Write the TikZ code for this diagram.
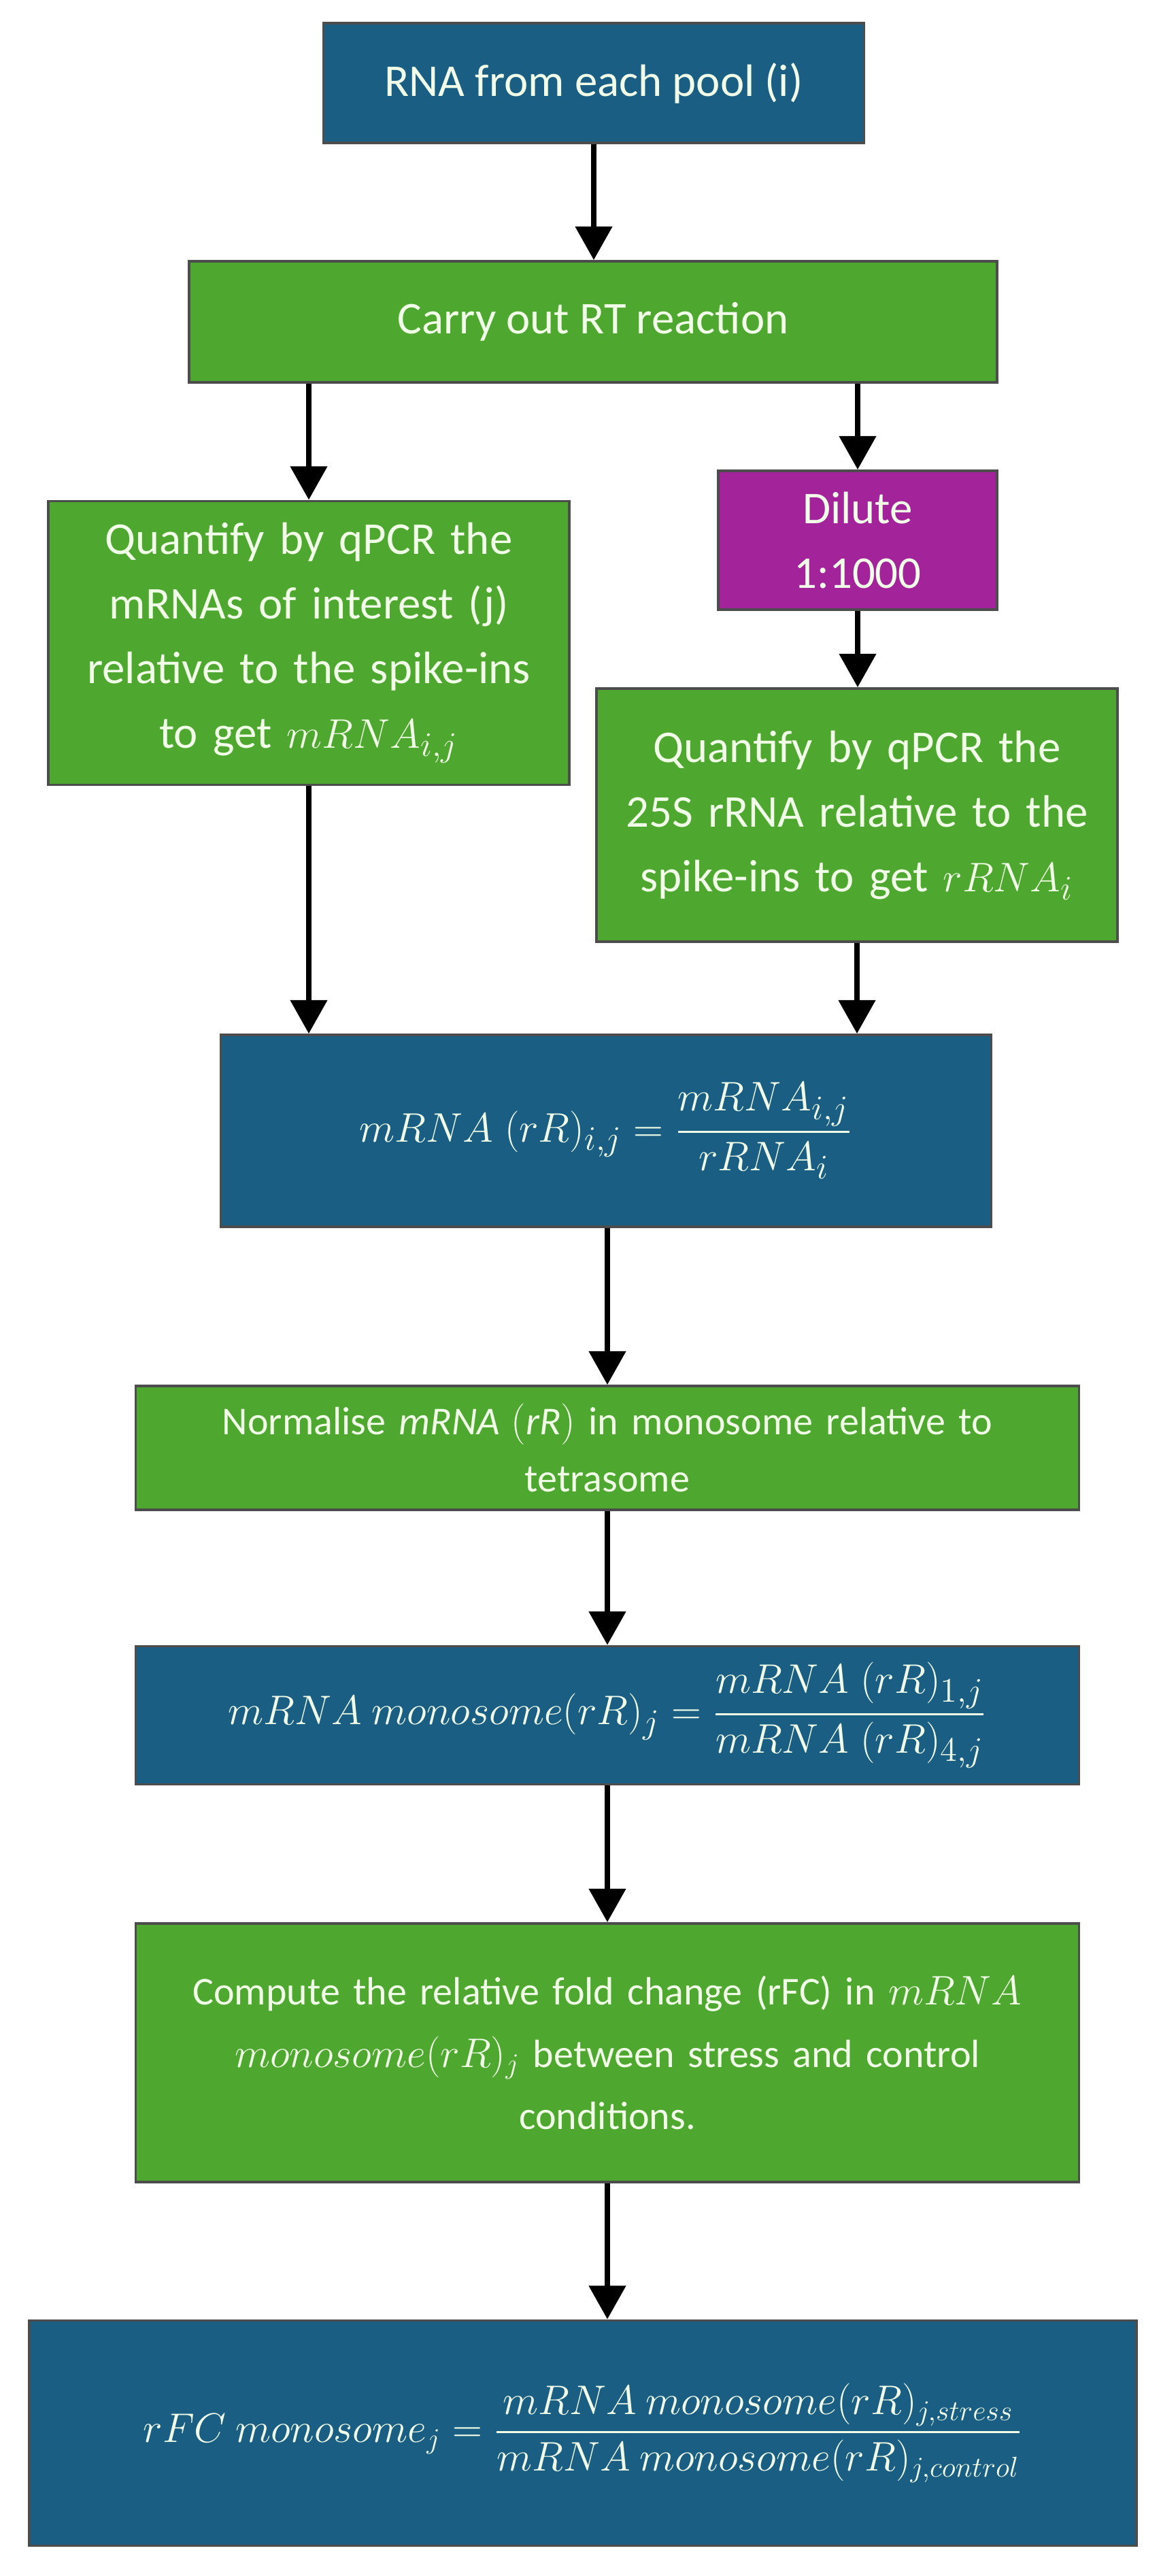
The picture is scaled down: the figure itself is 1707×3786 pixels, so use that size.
\documentclass[tikz,border=0pt]{standalone}
\usepackage{amsmath}
\usepackage{fontspec}
\setmainfont{Carlito}
\usetikzlibrary{arrows.meta}
\definecolor{bluebox}{HTML}{1B5E84}
\definecolor{greenbox}{HTML}{4EA72E}
\definecolor{magbox}{HTML}{A3239B}
\definecolor{txt}{HTML}{F2FFE8}
\hyphenpenalty=10000
\exhyphenpenalty=10000
\begin{document}
\begin{tikzpicture}[x=0.01cm,y=-0.01cm,
  box/.style={draw=black!70,line width=1pt,text=txt,align=center,inner sep=6pt,font=\fontsize{19}{27}\selectfont},
  blue/.style={box,fill=bluebox},
  green/.style={box,fill=greenbox},
  mag/.style={box,fill=magbox},
  arr/.style={line width=2.4pt,-{Triangle[width=15pt,length=14pt]}}]
\useasboundingbox (0,0) rectangle (1707,3786);
\node[blue,minimum width=7.95cm,minimum height=1.76cm] (b1) at (873,122) {RNA from each pool (i)};
\node[green,minimum width=11.87cm,minimum height=1.78cm] (b2) at (872,473) {Carry out RT reaction};
\node[green,minimum width=7.66cm,minimum height=4.17cm,text width=6.6cm] (lb) at (454,945) {Quantify by qPCR the mRNAs of interest (j) relative to the spike-ins to get $mRNA_{i,j}$};
\node[mag,minimum width=4.1cm,minimum height=2.04cm] (dil) at (1261,794) {Dilute\\1:1000};
\node[green,minimum width=7.66cm,minimum height=3.72cm,text width=6.8cm] (rb) at (1260,1198) {Quantify by qPCR the 25S rRNA relative to the spike-ins to get $rRNA_i$};
\node[blue,minimum width=11.32cm,minimum height=2.82cm] (rr) at (891,1662) {$mRNA\;(rR)_{i,j} = \dfrac{mRNA_{i,j}}{rRNA_i}$};
\node[green,minimum width=13.86cm,minimum height=1.82cm,text width=13.4cm,font=\fontsize{16.5}{24}\selectfont] (norm) at (893,2128) {Normalise $\mathit{mRNA\;(rR)}$ in monosome relative to\\tetrasome};
\node[blue,minimum width=13.86cm,minimum height=2.03cm] (mono) at (893,2521) {$mRNA\ monosome(rR)_j = \dfrac{mRNA\;(rR)_{1,j}}{mRNA\;(rR)_{4,j}}$};
\node[green,minimum width=13.86cm,minimum height=3.8cm,text width=13.4cm,font=\fontsize{16.5}{26}\selectfont] (comp) at (893,3017) {Compute the relative fold change (rFC) in $mRNA$\\$monosome(rR)_j$ between stress and control\\conditions.};
\node[blue,minimum width=16.27cm,minimum height=3.31cm,font=\fontsize{17}{24}\selectfont] (fin) at (857,3576) {$rFC\ monosome_j = \dfrac{mRNA\ monosome(rR)_{j,stress}}{mRNA\ monosome(rR)_{j,control}}$};
\draw[arr] (b1.south) -- (b1.south |- b2.north);
\draw[arr] (lb.north |- b2.south) -- (lb.north);
\draw[arr] (dil.north |- b2.south) -- (dil.north);
\draw[arr] (dil.south) -- (dil.south |- rb.north);
\draw[arr] (lb.south) -- (lb.south |- rr.north);
\draw[arr] (rb.south) -- (rb.south |- rr.north);
\draw[arr] (rr.south -| norm.north) -- (norm.north);
\draw[arr] (norm.south) -- (mono.north);
\draw[arr] (mono.south) -- (comp.north);
\draw[arr] (comp.south -| mono.south) -- (fin.north -| mono.south);
\end{tikzpicture}
\end{document}
